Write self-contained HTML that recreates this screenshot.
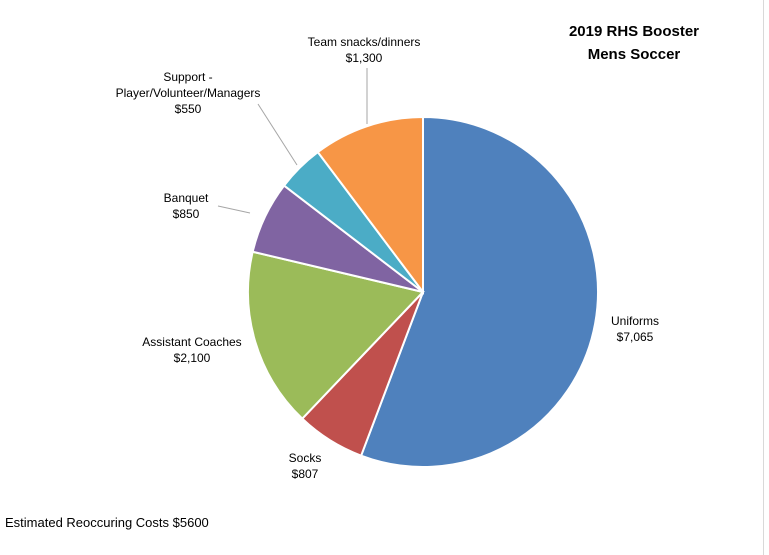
<!DOCTYPE html>
<html><head><meta charset="utf-8"><style>
body{margin:0;background:#fff;}
svg{display:block;font-family:"Liberation Sans",sans-serif;}
</style></head><body>
<svg width="769" height="555">
<rect x="0" y="0" width="769" height="555" fill="#fff"/>
<line x1="763.5" y1="0" x2="763.5" y2="555" stroke="#d9d9d9"/>
<text x="634" y="36" text-anchor="middle" font-size="15" font-weight="bold">2019 RHS Booster</text>
<text x="634" y="59" text-anchor="middle" font-size="15" font-weight="bold">Mens Soccer</text>
<g id="slices"></g>
<g font-size="12" fill="#000">
<line x1="367" y1="68" x2="367" y2="124" stroke="#a6a6a6"/>
<line x1="258" y1="104" x2="297" y2="165" stroke="#a6a6a6"/>
<line x1="218" y1="206" x2="250" y2="213" stroke="#a6a6a6"/>
<text x="364" y="46" text-anchor="middle"><tspan x="364">Team snacks/dinners</tspan><tspan x="364" dy="16">$1,300</tspan></text>
<text x="188" y="81" text-anchor="middle"><tspan x="188">Support -</tspan><tspan x="188" dy="16">Player/Volunteer/Managers</tspan><tspan x="188" dy="16">$550</tspan></text>
<text x="186" y="202" text-anchor="middle"><tspan x="186">Banquet</tspan><tspan x="186" dy="16">$850</tspan></text>
<text x="192" y="346" text-anchor="middle"><tspan x="192">Assistant Coaches</tspan><tspan x="192" dy="16">$2,100</tspan></text>
<text x="305" y="462" text-anchor="middle"><tspan x="305">Socks</tspan><tspan x="305" dy="16">$807</tspan></text>
<text x="635" y="325" text-anchor="middle"><tspan x="635">Uniforms</tspan><tspan x="635" dy="16">$7,065</tspan></text>
<text x="5" y="527" font-size="13">Estimated Reoccuring Costs $5600</text>
</g>
</svg>
<script>
const categories=["Uniforms","Socks","Assistant Coaches","Banquet","Support","Team snacks"];
const values=[7065,807,2100,850,550,1300];
const colors=["#4f81bd","#c0504d","#9bbb59","#8064a2","#4bacc6","#f79646"];
const cx=423,cy=292,r=175;
const g=document.getElementById('slices');
const total=values.reduce((a,b)=>a+b,0);
let a0=0;
values.forEach((v,i)=>{
  const a1=a0+v/total*2*Math.PI;
  const x0=cx+r*Math.sin(a0),y0=cy-r*Math.cos(a0);
  const x1=cx+r*Math.sin(a1),y1=cy-r*Math.cos(a1);
  const large=(a1-a0)>Math.PI?1:0;
  const p=document.createElementNS('http://www.w3.org/2000/svg','path');
  p.setAttribute('d',`M${cx},${cy}L${x0},${y0}A${r},${r} 0 ${large} 1 ${x1},${y1}Z`);
  p.setAttribute('fill',colors[i]);
  p.setAttribute('stroke','#fff');
  p.setAttribute('stroke-width','2');
  
  
  g.appendChild(p);
  a0=a1;
});
</script>
</body></html>
